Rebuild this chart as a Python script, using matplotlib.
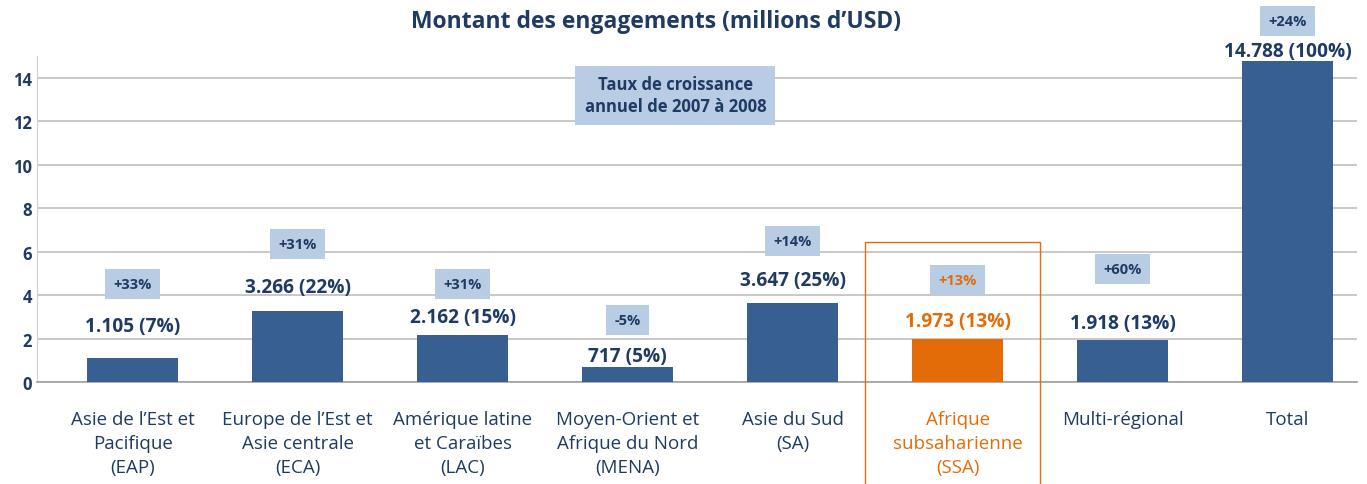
import matplotlib.pyplot as plt
from matplotlib.patches import Rectangle

categories = ["Asie de l\u2019Est et\nPacifique\n(EAP)",
              "Europe de l\u2019Est et\nAsie centrale\n(ECA)",
              "Am\u00e9rique latine\net Cara\u00efbes\n(LAC)",
              "Moyen-Orient et\nAfrique du Nord\n(MENA)",
              "Asie du Sud\n(SA)",
              "Afrique\nsubsaharienne\n(SSA)",
              "Multi-r\u00e9gional",
              "Total"]
values = [1.105, 3.266, 2.162, 0.717, 3.647, 1.973, 1.918, 14.788]
value_labels = ["1.105 (7%)", "3.266 (22%)", "2.162 (15%)", "717 (5%)",
                "3.647 (25%)", "1.973 (13%)", "1.918 (13%)", "14.788 (100%)"]
growth = ["+33%", "+31%", "+31%", "-5%", "+14%", "+13%", "+60%", "+24%"]

# layout (data y of the labels)
label_y = [2.6, 4.4, 3.0, 1.2, 4.7, 2.8, 2.7, 15.25]
growth_y = [4.5, 6.35, 4.5, 2.85, 6.5, 4.7, 5.2, 16.6]

navy = "#1f3b63"
bar_c = "#375f8f"
orange = "#e36c09"
box_c = "#b8cce4"

fig = plt.figure(figsize=(13.67, 4.85), dpi=100)
ax = fig.add_axes([0.027, 0.210, 0.9656, 0.672])

x = list(range(len(values)))
colors = [orange if i == 5 else bar_c for i in x]
ax.bar(x, values, width=0.55, color=colors, zorder=3)

ax.set_xlim(-0.58, len(values) - 0.58)
ax.set_ylim(0, 15)
ax.set_yticks([0, 2, 4, 6, 8, 10, 12, 14])
ax.yaxis.grid(True, color="#bfbfbf", linewidth=1.2)
ax.set_axisbelow(True)
for s in ["top", "right"]:
    ax.spines[s].set_visible(False)
ax.spines["left"].set_color("#d0d0d0")
ax.spines["bottom"].set_color("#a0a0a0")
ax.spines["bottom"].set_linewidth(1.2)
ax.tick_params(axis="both", length=0)
ax.tick_params(axis="x", pad=20)
for lab in ax.get_yticklabels():
    lab.set_fontweight("bold")
    lab.set_fontsize(12)
    lab.set_color(navy)
    lab.set_fontfamily("Open Sans")

ax.set_xticks(x)
ax.set_xticklabels(categories, fontsize=13.5, color=navy, family="Open Sans",
                   linespacing=1.42)
ax.get_xticklabels()[5].set_color(orange)

for i in x:
    c = orange if i == 5 else navy
    ax.text(i, label_y[i], value_labels[i], ha="center", va="center",
            fontsize=13.8, fontweight="bold", color=c, family="Open Sans",
            clip_on=False)
    ax.text(i, growth_y[i], growth[i], ha="center", va="center",
            fontsize=10.5, fontweight="bold", color=c, family="Open Sans",
            clip_on=False,
            bbox=dict(boxstyle="square,pad=0.55", fc=box_c, ec="none"))

ax.text(3.29, 13.2, "Taux de croissance\nannuel de 2007 \u00e0 2008", ha="center",
        va="center", fontsize=12, fontweight="bold", color=navy,
        family="Open Sans", linespacing=1.3,
        bbox=dict(boxstyle="square,pad=0.55", fc=box_c, ec="none"))

frame = Rectangle((4.44, -6), 1.06, 12.45, fill=False, ec=orange, lw=1.0,
                  clip_on=False, zorder=4)
ax.add_patch(frame)

fig.text(0.48, 0.955, "Montant des engagements (millions d\u2019USD)", ha="center",
         va="center", fontsize=16.5, fontweight="bold", color=navy,
         family="Open Sans")

fig.savefig("out.png", dpi=100)
